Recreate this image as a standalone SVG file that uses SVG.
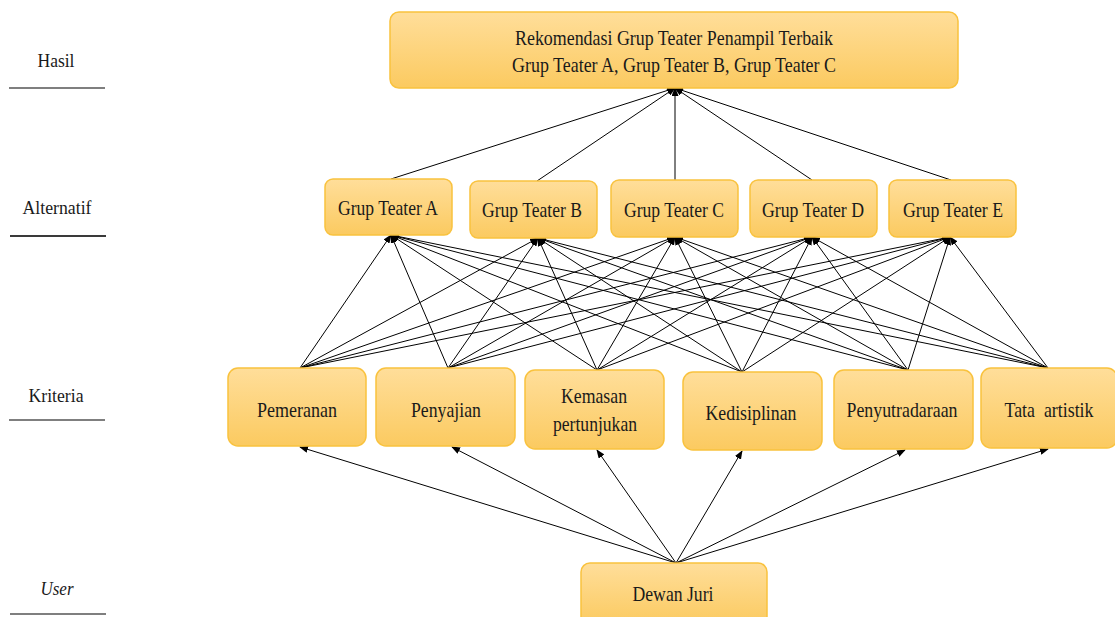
<svg xmlns="http://www.w3.org/2000/svg" width="1115" height="617" viewBox="0 0 1115 617">
<defs>
<linearGradient id="g" x1="0" y1="0" x2="0" y2="1">
<stop offset="0" stop-color="#FFDE9A"/>
<stop offset="1" stop-color="#FBCA60"/>
</linearGradient>
<marker id="ah" markerUnits="userSpaceOnUse" markerWidth="9" markerHeight="7" refX="8" refY="3.5" orient="auto">
<path d="M0,0 L9,3.5 L0,7 z" fill="#000"/>
</marker>
<style>
.box{fill:url(#g);stroke:#F9C23E;stroke-width:1.5}
.t{font-family:"Liberation Serif","Times New Roman",serif;font-size:21.5px;fill:#1a1a1a;text-anchor:middle}
.lbl{font-family:"Liberation Serif","Times New Roman",serif;font-size:18.5px;fill:#1a1a1a;text-anchor:middle}
.rule{stroke:#7f7f7f;stroke-width:2}
#connectors line{stroke:#000;stroke-width:1;marker-end:url(#ah)}
</style>
</defs>
<rect width="1115" height="617" fill="#fff"/>

<g id="levels">
<text class="lbl" x="56" y="67" textLength="37" lengthAdjust="spacingAndGlyphs">Hasil</text>
<line class="rule" x1="9" y1="88" x2="105" y2="88"/>
<text class="lbl" x="57" y="214" textLength="69" lengthAdjust="spacingAndGlyphs">Alternatif</text>
<line class="rule" x1="10" y1="236" x2="106" y2="236" style="stroke:#3a3a3a"/>
<text class="lbl" x="56" y="402" textLength="55" lengthAdjust="spacingAndGlyphs">Kriteria</text>
<line class="rule" x1="9" y1="420" x2="105" y2="420"/>
<text class="lbl" x="57" y="595" font-style="italic" textLength="33" lengthAdjust="spacingAndGlyphs">User</text>
<line class="rule" x1="10" y1="614" x2="106" y2="614"/>
</g>

<g id="connectors">
<line x1="391" y1="179" x2="675" y2="88"/>
<line x1="537" y1="181" x2="675" y2="88"/>
<line x1="675" y1="180" x2="675" y2="88"/>
<line x1="812" y1="180" x2="675" y2="88"/>
<line x1="951" y1="180" x2="675" y2="88"/>

<line x1="300" y1="368" x2="391" y2="235"/>
<line x1="300" y1="368" x2="538" y2="238"/>
<line x1="300" y1="368" x2="675" y2="237"/>
<line x1="300" y1="368" x2="812" y2="237"/>
<line x1="300" y1="368" x2="950" y2="237"/>

<line x1="448" y1="368" x2="391" y2="235"/>
<line x1="448" y1="368" x2="538" y2="238"/>
<line x1="448" y1="368" x2="675" y2="237"/>
<line x1="448" y1="368" x2="812" y2="237"/>
<line x1="448" y1="368" x2="950" y2="237"/>

<line x1="597" y1="370" x2="391" y2="235"/>
<line x1="597" y1="370" x2="538" y2="238"/>
<line x1="597" y1="370" x2="675" y2="237"/>
<line x1="597" y1="370" x2="812" y2="237"/>
<line x1="597" y1="370" x2="950" y2="237"/>

<line x1="742" y1="372" x2="391" y2="235"/>
<line x1="742" y1="372" x2="538" y2="238"/>
<line x1="742" y1="372" x2="675" y2="237"/>
<line x1="742" y1="372" x2="812" y2="237"/>
<line x1="742" y1="372" x2="950" y2="237"/>

<line x1="908" y1="370" x2="391" y2="235"/>
<line x1="908" y1="370" x2="538" y2="238"/>
<line x1="908" y1="370" x2="675" y2="237"/>
<line x1="908" y1="370" x2="812" y2="237"/>
<line x1="908" y1="370" x2="950" y2="237"/>

<line x1="1048" y1="368" x2="391" y2="235"/>
<line x1="1048" y1="368" x2="538" y2="238"/>
<line x1="1048" y1="368" x2="675" y2="237"/>
<line x1="1048" y1="368" x2="812" y2="237"/>
<line x1="1048" y1="368" x2="950" y2="237"/>

<line x1="676" y1="563" x2="300" y2="447"/>
<line x1="676" y1="563" x2="452" y2="447"/>
<line x1="676" y1="563" x2="597" y2="450"/>
<line x1="676" y1="563" x2="742" y2="451"/>
<line x1="676" y1="563" x2="905" y2="450"/>
<line x1="676" y1="563" x2="1048" y2="449"/>
</g>

<g id="hasil">
<rect class="box" x="390" y="12" width="568" height="76" rx="9"/>
<text class="t" x="674" y="45" textLength="318" lengthAdjust="spacingAndGlyphs">Rekomendasi Grup Teater Penampil Terbaik</text>
<text class="t" x="674" y="72" textLength="324" lengthAdjust="spacingAndGlyphs">Grup Teater A, Grup Teater B, Grup Teater C</text>
</g>

<g id="alt-a"><rect class="box" x="325" y="179" width="127" height="56" rx="8"/><text class="t" x="388" y="215" textLength="100" lengthAdjust="spacingAndGlyphs">Grup Teater A</text></g>
<g id="alt-b"><rect class="box" x="470" y="181" width="127" height="57" rx="8"/><text class="t" x="532" y="217" textLength="100" lengthAdjust="spacingAndGlyphs">Grup Teater B</text></g>
<g id="alt-c"><rect class="box" x="611" y="180" width="127" height="57" rx="8"/><text class="t" x="674" y="217" textLength="100" lengthAdjust="spacingAndGlyphs">Grup Teater C</text></g>
<g id="alt-d"><rect class="box" x="750" y="180" width="127" height="57" rx="8"/><text class="t" x="813" y="217" textLength="102" lengthAdjust="spacingAndGlyphs">Grup Teater D</text></g>
<g id="alt-e"><rect class="box" x="889" y="180" width="127" height="57" rx="8"/><text class="t" x="953" y="217" textLength="100" lengthAdjust="spacingAndGlyphs">Grup Teater E</text></g>

<g id="k-pemeranan"><rect class="box" x="228" y="368" width="138" height="78" rx="10"/><text class="t" x="297" y="417" textLength="80" lengthAdjust="spacingAndGlyphs">Pemeranan</text></g>
<g id="k-penyajian"><rect class="box" x="376" y="368" width="139" height="78" rx="10"/><text class="t" x="446" y="417" textLength="70" lengthAdjust="spacingAndGlyphs">Penyajian</text></g>
<g id="k-kemasan"><rect class="box" x="525" y="370" width="139" height="79" rx="10"/><text class="t" x="594" y="403" textLength="66" lengthAdjust="spacingAndGlyphs">Kemasan</text><text class="t" x="595" y="431" textLength="84" lengthAdjust="spacingAndGlyphs">pertunjukan</text></g>
<g id="k-kedisiplinan"><rect class="box" x="683" y="372" width="139" height="78" rx="10"/><text class="t" x="751" y="420" textLength="91" lengthAdjust="spacingAndGlyphs">Kedisiplinan</text></g>
<g id="k-penyutradaraan"><rect class="box" x="834" y="370" width="139" height="79" rx="10"/><text class="t" x="902" y="417" textLength="111" lengthAdjust="spacingAndGlyphs">Penyutradaraan</text></g>
<g id="k-tata"><rect class="box" x="981" y="368" width="136" height="80" rx="10"/><text class="t" x="1049" y="417" textLength="89" lengthAdjust="spacingAndGlyphs" style="white-space:pre">Tata  artistik</text></g>

<g id="dewan-juri"><rect class="box" x="581" y="563" width="186" height="62" rx="9"/><text class="t" x="673" y="601" textLength="81" lengthAdjust="spacingAndGlyphs">Dewan Juri</text></g>
</svg>
